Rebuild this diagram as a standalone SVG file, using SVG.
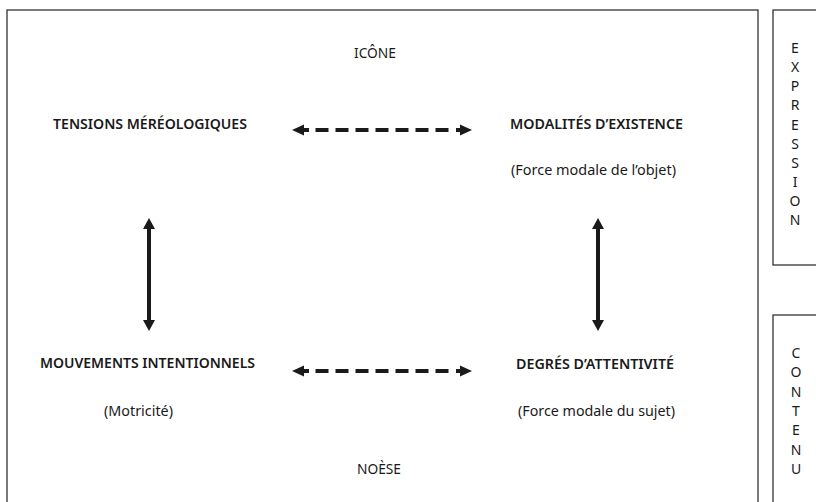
<svg xmlns="http://www.w3.org/2000/svg" width="816" height="502" viewBox="0 0 816 502">
<style>
.frame{fill:none;stroke:#333;stroke-width:1.3}
.t{font-family:"Noto Sans","Open Sans",sans-serif;fill:#1a1a1a}
.b{font-size:15px;font-weight:600}
.r{font-size:15px;font-weight:400}
.v{font-size:14px;font-weight:400;text-anchor:middle}
.dash{stroke:#1a1a1a;stroke-width:4;stroke-dasharray:13 7;fill:none}
.shaft{stroke:#1a1a1a;stroke-width:4;fill:none}
.head{fill:#1a1a1a}
</style>
<rect width="816" height="502" fill="#fff"/>
<g id="frames">
<rect class="frame" x="7" y="10" width="751" height="500"/>
<rect class="frame" x="773" y="10" width="60" height="255"/>
<rect class="frame" x="773" y="315" width="60" height="200"/>
</g>
<g id="icone"><text class="t r" x="354" y="58" textLength="42" lengthAdjust="spacingAndGlyphs">ICÔNE</text></g>
<g id="noese"><text class="t r" x="357" y="474" textLength="44" lengthAdjust="spacingAndGlyphs">NOÈSE</text></g>
<g id="tensions"><text class="t b" x="53" y="129" textLength="194" lengthAdjust="spacingAndGlyphs">TENSIONS MÉRÉOLOGIQUES</text></g>
<g id="modalites">
<text class="t b" x="510" y="129" textLength="173" lengthAdjust="spacingAndGlyphs">MODALITÉS D’EXISTENCE</text>
<text class="t r" x="511" y="175" textLength="165" lengthAdjust="spacingAndGlyphs">(Force modale de l’objet)</text>
</g>
<g id="mouvements">
<text class="t b" x="40" y="368" textLength="215" lengthAdjust="spacingAndGlyphs">MOUVEMENTS INTENTIONNELS</text>
<text class="t r" x="104" y="416" textLength="69" lengthAdjust="spacingAndGlyphs">(Motricité)</text>
</g>
<g id="degres">
<text class="t b" x="516" y="369" textLength="158" lengthAdjust="spacingAndGlyphs">DEGRÉS D’ATTENTIVITÉ</text>
<text class="t r" x="518" y="416" textLength="157" lengthAdjust="spacingAndGlyphs">(Force modale du sujet)</text>
</g>
<g id="expression">
<text class="t v" x="795" y="53">E</text>
<text class="t v" x="795" y="72">X</text>
<text class="t v" x="795" y="91">P</text>
<text class="t v" x="795" y="110">R</text>
<text class="t v" x="795" y="130">E</text>
<text class="t v" x="795" y="149">S</text>
<text class="t v" x="795" y="168">S</text>
<text class="t v" x="795" y="187">I</text>
<text class="t v" x="795" y="206">O</text>
<text class="t v" x="795" y="225">N</text>
</g>
<g id="contenu">
<text class="t v" x="796" y="358">C</text>
<text class="t v" x="796" y="377">O</text>
<text class="t v" x="796" y="397">N</text>
<text class="t v" x="796" y="416">T</text>
<text class="t v" x="796" y="435">E</text>
<text class="t v" x="796" y="455">N</text>
<text class="t v" x="796" y="474">U</text>
</g>
<g id="connectors">
<g id="top-dashed">
<line class="dash" x1="315.5" y1="130" x2="448.5" y2="130"/>
<path class="shaft" d="M302 130H309M456 130H462"/>
<path class="head" d="M292 130L304 124.5V135.5Z"/>
<path class="head" d="M472 130L460 124.5V135.5Z"/>
</g>
<g id="bottom-dashed">
<line class="dash" x1="315.5" y1="371" x2="448.5" y2="371"/>
<path class="shaft" d="M302 371H309M456 371H462"/>
<path class="head" d="M292 371L304 365.5V376.5Z"/>
<path class="head" d="M472 371L460 365.5V376.5Z"/>
</g>
<g id="left-vertical">
<path class="shaft" d="M149 226V323"/>
<path class="head" d="M149 218L155 229H143Z"/>
<path class="head" d="M149 331L155 320H143Z"/>
</g>
<g id="right-vertical">
<path class="shaft" d="M598 226V323"/>
<path class="head" d="M598 218L604 229H592Z"/>
<path class="head" d="M598 331L604 320H592Z"/>
</g>
</g>
</svg>
